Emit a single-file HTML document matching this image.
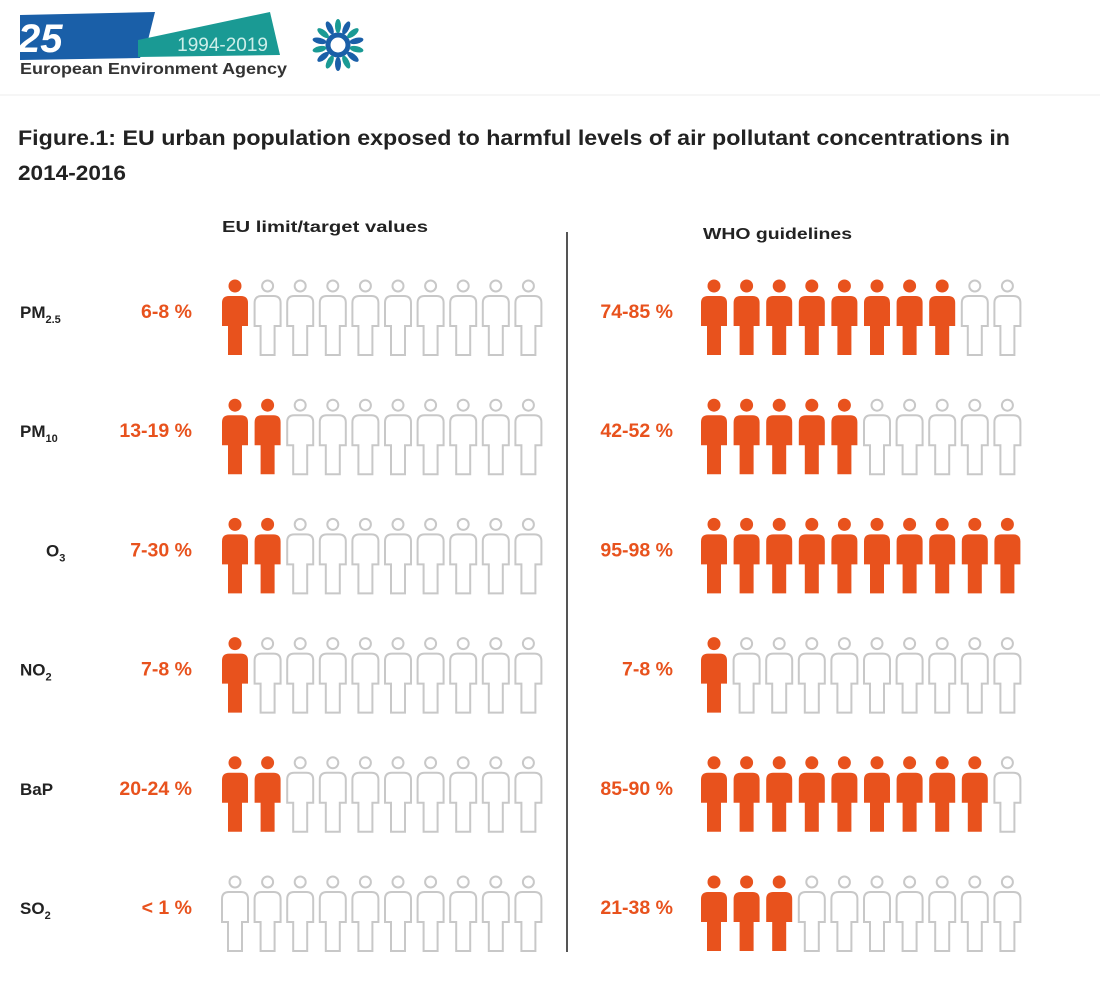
<!DOCTYPE html>
<html><head><meta charset="utf-8"><style>
body{margin:0;width:1100px;height:982px;background:#fff;overflow:hidden;font-family:"Liberation Sans",sans-serif}
</style></head><body>
<svg id="s" width="1100" height="982" xmlns="http://www.w3.org/2000/svg" font-family="Liberation Sans, sans-serif">
<polygon points="20,15 155,12 148,40 140,58 20,60" fill="#1a5fa8"/>
<text x="18" y="52" font-size="40" font-weight="bold" fill="#fff" font-style="italic">25</text>
<polygon points="138,40 270,12 280,55 138,57" fill="#1a9a94"/>
<text x="268" y="51" font-size="19" fill="#cdeee9" text-anchor="end">1994-2019</text>
<text x="20" y="74" font-size="16" font-weight="bold" fill="#333" textLength="267" lengthAdjust="spacingAndGlyphs">European Environment Agency</text>
<g transform="translate(338,45)">
<circle r="10" fill="none" stroke="#1a5fa8" stroke-width="5"/>
<g id="rays"></g>
</g>
<line x1="0" y1="95" x2="1100" y2="95" stroke="#eee" stroke-width="1"/>
<text x="18" y="145" font-size="21" font-weight="bold" fill="#222" textLength="992" lengthAdjust="spacingAndGlyphs">Figure.1: EU urban population exposed to harmful levels of air pollutant concentrations in</text>
<text x="18" y="180" font-size="21" font-weight="bold" fill="#222" textLength="108" lengthAdjust="spacingAndGlyphs">2014-2016</text>
<text x="222" y="232" font-size="16" font-weight="bold" fill="#222" textLength="206" lengthAdjust="spacingAndGlyphs">EU limit/target values</text>
<text x="703" y="239" font-size="16" font-weight="bold" fill="#222" textLength="149" lengthAdjust="spacingAndGlyphs">WHO guidelines</text>
<line x1="567" y1="232" x2="567" y2="952" stroke="#555" stroke-width="2"/>
<g id="g"></g>
</svg>
<script>
var g=document.getElementById('g'),h='';
var P="M -13,40 V 17 Q -13,10 -6,10 H 6 Q 13,10 13,17 V 40 H 7 V 69 H -7 V 40 Z";
var rows=[["PM","2.5","6-8 %",1,"74-85 %",8],["PM","10","13-19 %",2,"42-52 %",5],["O","3","7-30 %",2,"95-98 %",10],["NO","2","7-8 %",1,"7-8 %",1],["BaP","","20-24 %",2,"85-90 %",9],["SO","2","< 1 %",0,"21-38 %",3]];
rows.forEach(function(r,i){
 var y=286+i*119.2;
 var lx=(r[0]=="O")?46:20;
 h+='<text x="'+lx+'" y="'+(y+32)+'" font-size="17" font-weight="bold" fill="#222">'+r[0]+(r[1]?'<tspan font-size="11" dy="5">'+r[1]+'</tspan>':'')+'</text>';
 h+='<text x="192" y="'+(y+32)+'" font-size="19.5" font-weight="bold" fill="#e8521d" text-anchor="end">'+r[2]+'</text>';
 h+='<text x="673" y="'+(y+32)+'" font-size="19.5" font-weight="bold" fill="#e8521d" text-anchor="end">'+r[4]+'</text>';
 for(var k=0;k<10;k++){
  [[235,r[3]],[714,r[5]]].forEach(function(c){
   var x=c[0]+k*32.6,f=k<c[1];
   var a=f?'fill="#e8521d"':'fill="none" stroke="#c8c8c8" stroke-width="2"';
   h+='<g transform="translate('+x+','+y+')"><circle r="'+(f?6.5:5.5)+'" '+a+'/><path d="'+P+'" '+a+'/></g>';
  });
 }
});
g.innerHTML=h;
var rr='';for(var j=0;j<14;j++){var an=j*360/14;rr+='<ellipse cx="0" cy="-19" rx="3" ry="7" fill="'+(j%2?'#1a5fa8':'#1a9a94')+'" transform="rotate('+an+')"/>';}
document.getElementById('rays').innerHTML=rr;
</script>
</body></html>
